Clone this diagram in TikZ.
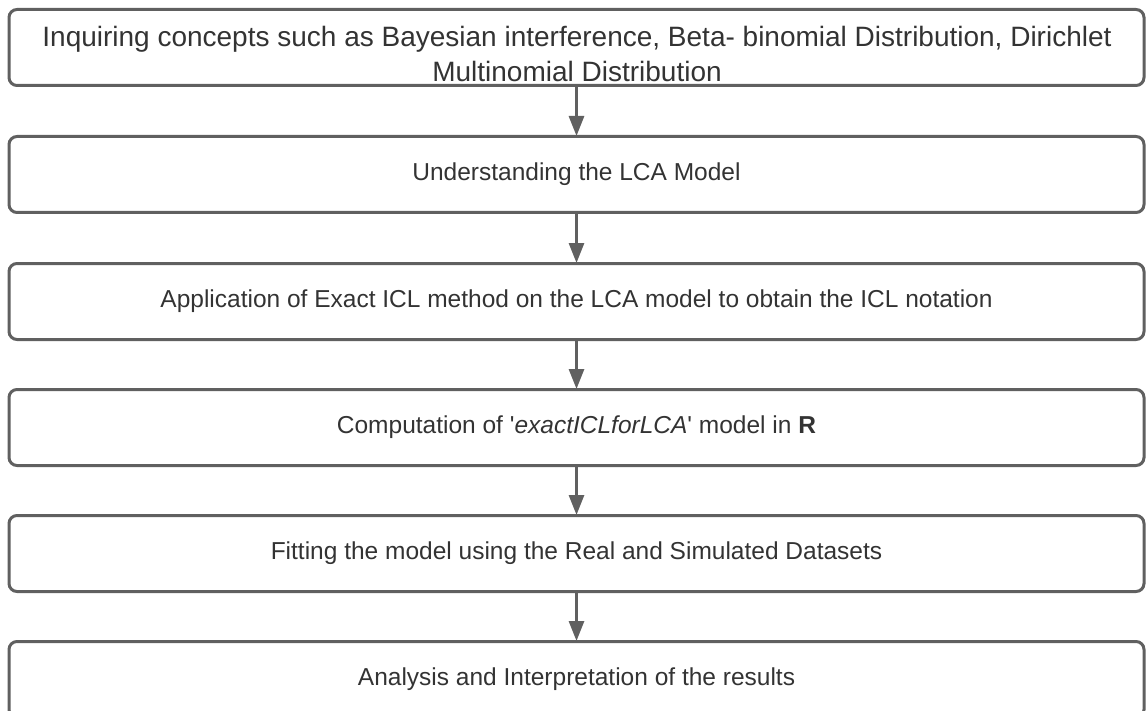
\documentclass[tikz,border=0pt]{standalone}
\usepackage{fontspec}
\setmainfont{Liberation Sans}
\usetikzlibrary{arrows.meta}
\definecolor{strokegray}{HTML}{606060}
\definecolor{textgray}{HTML}{333333}
\tikzset{
  boxfont/.style={text=textgray, font=\fontsize{24.5}{35}\selectfont},
  bigfont/.style={text=textgray, font=\fontsize{28}{35}\selectfont},
  stepbox/.style={draw=strokegray, line width=3pt, rounded corners=8pt, minimum width=1135pt, minimum height=76pt, inner sep=0pt, boxfont, align=center, anchor=north},
  flowarrow/.style={draw=strokegray, line width=3pt, -{Triangle[length=20pt, width=15pt]}, shorten >=-1pt}
}
\begin{document}
\begin{tikzpicture}[x=1pt,y=-1pt]
\useasboundingbox (0,0) rectangle (1147,711);
\node[stepbox] (b1) at (576.5,8) {};
\node[stepbox] (b2) at (576.5,135) {Understanding the LCA Model};
\node[stepbox] (b3) at (576.5,262) {Application of Exact ICL method on the LCA model to obtain the ICL notation};
\node[stepbox] (b4) at (576.5,388) {Computation of \textquotesingle\textit{exactICLforLCA}\textquotesingle\ model in \textbf{R}};
\node[stepbox] (b5) at (576.5,514) {Fitting the model using the Real and Simulated Datasets};
\node[stepbox] (b6) at (576.5,640) {Analysis and Interpretation of the results};
\node[bigfont, align=center, anchor=base, inner sep=0pt] (t1) at (577,82) {Inquiring concepts such as Bayesian interference, Beta- binomial Distribution, Dirichlet\\Multinomial Distribution};
\draw[flowarrow] (b1.south) -- (b2.north);
\draw[flowarrow] (b2.south) -- (b3.north);
\draw[flowarrow] (b3.south) -- (b4.north);
\draw[flowarrow] (b4.south) -- (b5.north);
\draw[flowarrow] (b5.south) -- (b6.north);
\end{tikzpicture}
\end{document}
